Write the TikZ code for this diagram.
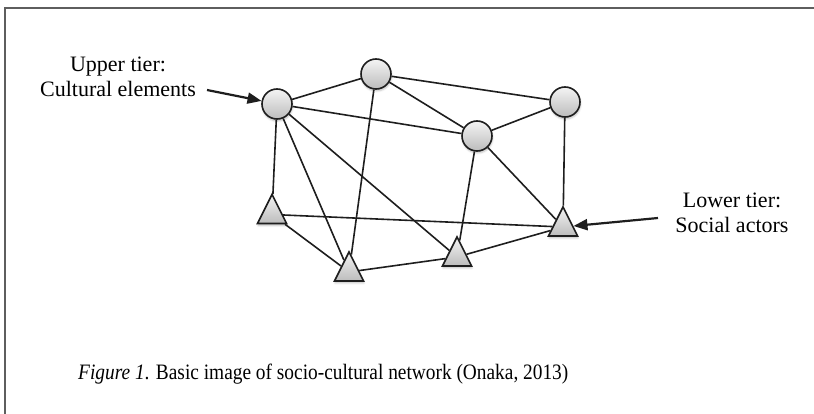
\documentclass[tikz,border=0pt]{standalone}
\usepackage{fontspec}
\setmainfont{Liberation Serif}
\usepackage{xcolor}
\usepackage{graphicx}
\usetikzlibrary{arrows.meta,shapes.geometric,shadows.blur}
\definecolor{ink}{HTML}{1E1E1E}
\definecolor{rim}{HTML}{5E5E5E}
\definecolor{hi}{HTML}{F4F4F4}
\definecolor{lo}{HTML}{BCBCBC}

\begin{document}
\begin{tikzpicture}[
  x=1pt,y=-1pt,
  font=\fontsize{22}{25}\selectfont,
  elem/.style={circle,draw=ink,line width=1.6pt,top color=hi,bottom color=lo,minimum size=30pt,inner sep=0pt,
    blur shadow={shadow xshift=0.5pt,shadow yshift=-2pt,shadow opacity=25}},
  actor/.style={isosceles triangle,isosceles triangle stretches,shape border rotate=90,draw=ink,line width=1.6pt,
    top color=hi,bottom color=lo,minimum width=29pt,minimum height=29pt,inner sep=0pt,
    blur shadow={shadow xshift=0.5pt,shadow yshift=-2pt,shadow opacity=25}},
  tie/.style={draw=ink,line width=1.6pt},
  ar/.style={-{Triangle[length=14pt,width=11pt]},draw=ink,line width=2.2pt},
  lbl/.style={align=center,inner sep=0pt}
]
\useasboundingbox (0,0) rectangle (814,414);
\draw[rim,line width=1.3pt] (5,414) -- (5,8) -- (814,8);

% upper tier
\node[elem] (c1) at (277,104) {};
\node[elem] (c2) at (376,74)  {};
\node[elem] (c3) at (565,102) {};
\node[elem] (c4) at (477,136) {};

% lower tier
\node[actor] (s1) at (272,214.5) {};
\node[actor] (s2) at (349,272)   {};
\node[actor] (s3) at (457,257)   {};
\node[actor] (s4) at (563,227)   {};

\foreach \u/\v in {c1/c2,c1/c4,c2/c3,c2/c4,c4/c3,c1/s1,c1/s2,c1/s3,c2/s2,c4/s3,c4/s4,c3/s4,s1/s4,s1/s2,s2/s3,s3/s4}
  \draw[tie] (\u) -- (\v);

\node[lbl] (upper) at (118,77) {Upper tier:\\Cultural elements};
\coordinate (ua) at (207,90);
\draw[ar] (ua) -- (c1);

\node[lbl] (lower) at (732,213) {Lower tier:\\Social actors};
\coordinate (la) at (658,218);
\draw[ar] (la) -- (s4);

\node[anchor=base west,inner sep=0pt] (cap) at (78,379)
  {\scalebox{0.88}[1]{\textit{Figure 1}. Basic image of socio-cultural network (Onaka, 2013)}};
\end{tikzpicture}
\end{document}
